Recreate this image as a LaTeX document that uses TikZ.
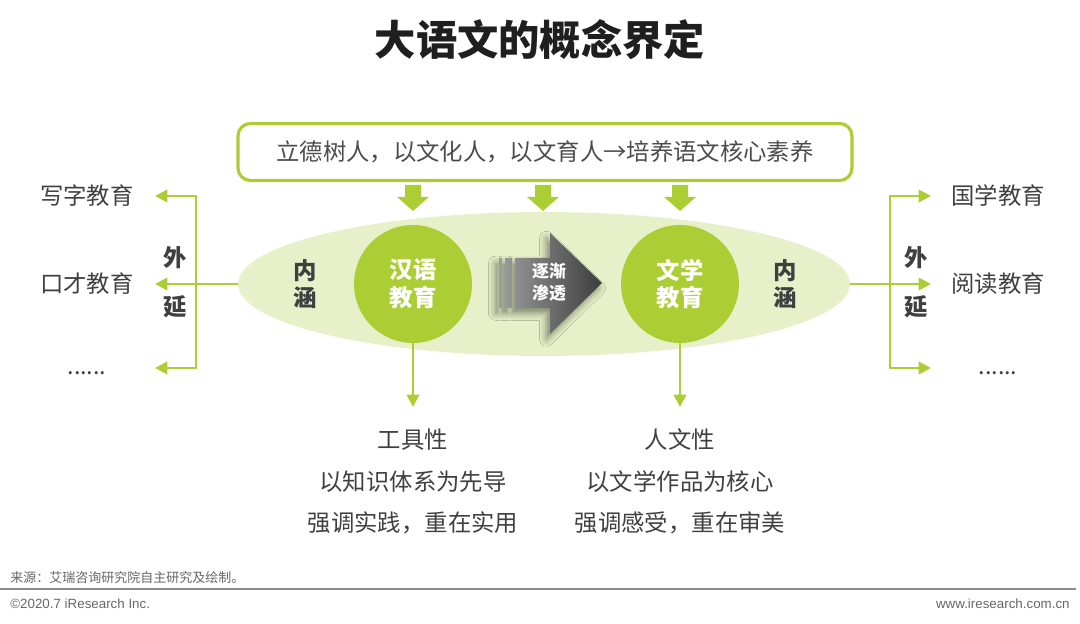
\documentclass[tikz,border=0pt]{standalone}
\usepackage{fontspec}
\setmainfont{Noto Sans CJK SC}
\newfontfamily\latinfont{Liberation Sans}
\usetikzlibrary{arrows.meta,shapes.geometric,shadows.blur}
\definecolor{leaf}{RGB}{172,206,52}
\definecolor{pale}{RGB}{231,240,200}
\definecolor{ink}{RGB}{64,64,64}

\begin{document}
\begin{tikzpicture}[x=0.02cm,y=-0.02cm,
  txt/.style={font=\fontsize{13.3}{16}\selectfont,text=ink},
  tag/.style={font=\fontsize{13.3}{15.8}\selectfont\bfseries,text=ink,align=center},
  core/.style={circle,fill=leaf,minimum size=2.36cm,inner sep=0,text=white,align=center,font=\fontsize{13.3}{15.8}\selectfont\bfseries},
  link/.style={leaf,line width=1.6pt,-{Triangle[length=7pt,width=7pt]}},
  bracket/.style={leaf,line width=1.6pt,{Triangle[length=7pt,width=7pt]}-{Triangle[length=7pt,width=7pt]}}]
  \useasboundingbox (0,0) rectangle (1080,624);
  % title and top box
  \node[font=\fontsize{23.5}{28}\selectfont\bfseries,text=black!88] (title) at (540,40) {大语文的概念界定};
  \node[draw=leaf,line width=1.8pt,rounded corners=7pt,minimum width=12.28cm,minimum height=1.14cm,txt,text=black!70] (goal) at (545,152) {立德树人，以文化人，以文育人→培养语文核心素养};
  \foreach \x in {413,543,680} { \fill[leaf] (\x-8,185) -- (\x+8,185) -- (\x+8,197) -- (\x+16,197) -- (\x,211) -- (\x-16,197) -- (\x-8,197) -- cycle; }
  % middle field
  \node[ellipse,fill=pale,minimum width=12.24cm,minimum height=2.88cm,inner sep=0] (field) at (544,284) {};
  \node[core] (han) at (413,284) {汉语\\教育};
  \node[core] (wen) at (680,284) {文学\\教育};
  \node[tag] (neiL) at (305,284) {内\\涵};
  \node[tag] (neiR) at (785,284) {内\\涵};
  \path[left color=black!38,right color=black!76,blur shadow={shadow xshift=-2pt,shadow yshift=-3pt,shadow blur radius=4pt,shadow opacity=45}]
    (499,258) rectangle (502,308) (505,258) rectangle (512,308)
    (515,258) -- (550,258) -- (550,233) -- (602,283) -- (550,334) -- (550,308) -- (515,308) -- cycle;
  \node[font=\fontsize{9.6}{12.4}\selectfont\bfseries,text=white,align=center] (seep) at (549,282) {逐渐\\渗透};
  % lower texts
  \foreach \n/\x/\a/\b/\c in {tool/413/工具性/以知识体系为先导/强调实践，重在实用,human/680/人文性/以文学作品为核心/强调感受，重在审美} {
    \node[txt] (\n1) at (\x,440) {\a};
    \node[txt] (\n2) at (\x,482) {\b};
    \node[txt] (\n3) at (\x,523) {\c};
    \coordinate (\n0) at (\x,407);
  }
  \draw[link] (han.south) -- (tool0);
  \draw[link] (wen.south) -- (human0);
  % extensions on both sides
  \foreach \n/\y/\l/\r in {1/196/写字教育/国学教育,2/284/口才教育/阅读教育,3/373/{......}/{......}} { \node[txt] (left\n) at (87,\y) {\l}; \node[txt] (right\n) at (998,\y) {\r}; }
  \coordinate (la1) at (155,196); \coordinate (la2) at (155,284); \coordinate (la3) at (155,368);
  \coordinate (ra1) at (931,196); \coordinate (ra2) at (931,284); \coordinate (ra3) at (931,368);
  \draw[link] (field.west) -- (la2);
  \draw[bracket] (la1) -- (196,196) -- (196,368) -- (la3);
  \draw[link] (field.east) -- (ra2);
  \draw[bracket] (ra1) -- (890,196) -- (890,368) -- (ra3);
  \node[tag] (waiL) at (175,282) {外\\[12pt]延};
  \node[tag] (waiR) at (916,282) {外\\[12pt]延};
  % footer
  \node[anchor=west,font=\fontsize{7.4}{9}\selectfont,text=black!60,inner sep=0] (src) at (10,578) {来源：艾瑞咨询研究院自主研究及绘制。};
  \draw[black!45,line width=1.3pt] (0,589) -- (1076,589);
  \node[anchor=west,font=\latinfont\fontsize{7.6}{9}\selectfont,text=black!60,inner sep=0] (copy) at (10,604) {©2020.7 iResearch Inc.};
  \node[anchor=east,font=\latinfont\fontsize{7.6}{9}\selectfont,text=black!60,inner sep=0] (web) at (1070,604) {www.iresearch.com.cn};
\end{tikzpicture}
\end{document}
